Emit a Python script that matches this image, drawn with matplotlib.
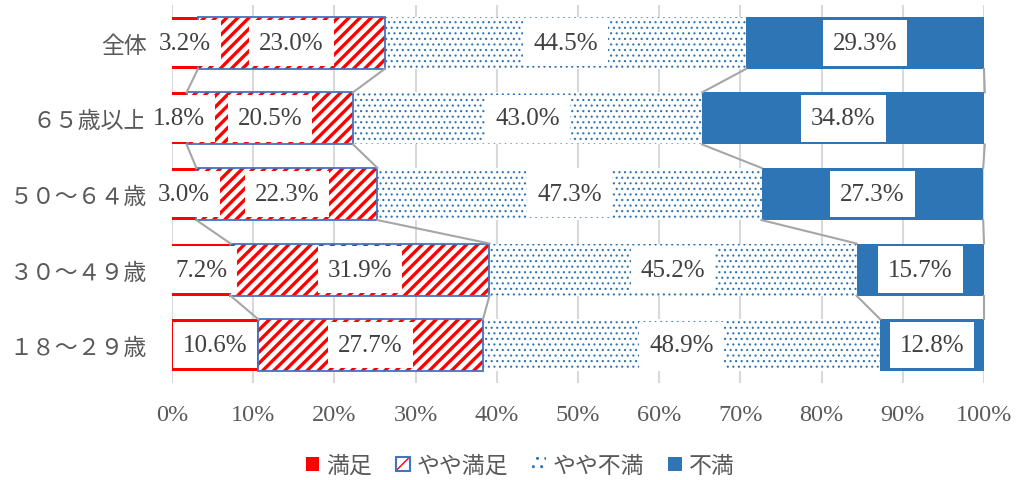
import matplotlib
matplotlib.use("Agg")
import matplotlib.pyplot as plt
from matplotlib.patches import Patch
from matplotlib.legend_handler import HandlerTuple
import numpy as np

# data (percent)
categories = ["全体", "６５歳以上", "５０～６４歳", "３０～４９歳", "１８～２９歳"]
series_names = ["満足", "やや満足", "やや不満", "不満"]
manzoku = [3.2, 1.8, 3.0, 7.2, 10.6]
yaya_manzoku = [23.0, 20.5, 22.3, 31.9, 27.7]
yaya_fuman = [44.5, 43.0, 47.3, 45.2, 48.9]
fuman = [29.3, 34.8, 27.3, 15.7, 12.8]
xticks = [0, 10, 20, 30, 40, 50, 60, 70, 80, 90, 100]

RED = "#FF0000"
BLUE = "#2E75B6"
EDGE_BLUE = "#4472C4"
TXT = "#595959"
num_font = ["Liberation Serif", "Noto Sans CJK JP"]
jp_font = ["Noto Sans CJK JP", "DejaVu Sans"]

fig = plt.figure(figsize=(10.16, 4.81), dpi=100)
ax = fig.add_axes([0.1693, 0.2017, 0.7992, 0.7858])

y = np.arange(len(categories))
h = 0.69
vals = [np.array(manzoku), np.array(yaya_manzoku), np.array(yaya_fuman), np.array(fuman)]
lefts = [np.zeros(len(y))]
for v in vals[:-1]:
    lefts.append(lefts[-1] + v)

# 満足: solid red
ax.barh(y, vals[0], left=lefts[0], height=h, color=RED, edgecolor=RED, linewidth=0, zorder=2)

# やや満足: red stripes + blue outline
with plt.rc_context({"hatch.linewidth": 2.4}):
    bars = ax.barh(y, vals[1], left=lefts[1], height=h, facecolor="white", edgecolor=RED,
                   linewidth=0, hatch="///", zorder=2)
    for b in bars:
        if hasattr(b, "set_hatch_linewidth"):
            b.set_hatch_linewidth(2.4)
ax.barh(y, vals[1], left=lefts[1], height=h, facecolor="none", edgecolor=EDGE_BLUE,
        linewidth=1.3, zorder=2.1)

# やや不満: blue dots
with plt.rc_context({"hatch.linewidth": 0.8}):
    bars = ax.barh(y, vals[2], left=lefts[2], height=h, facecolor="white", edgecolor=BLUE,
                   linewidth=0, hatch="...", zorder=2)
    for b in bars:
        if hasattr(b, "set_hatch_linewidth"):
            b.set_hatch_linewidth(0.8)

# 不満: solid blue
ax.barh(y, vals[3], left=lefts[3], height=h, color=BLUE, linewidth=0, zorder=2)

# series lines between bars
for i in range(4):
    ends = lefts[i] + vals[i]
    for k in range(len(y) - 1):
        ax.plot([ends[k], ends[k + 1]], [y[k] + h / 2, y[k + 1] - h / 2],
                color="#A6A6A6", linewidth=1.5, zorder=3, clip_on=False)

# data labels with white boxes
for i in range(4):
    for k in range(len(y)):
        cx = lefts[i][k] + vals[i][k] / 2
        ax.text(cx, y[k], f"{vals[i][k]:.1f}%", ha="center", va="center",
                fontsize=18, family=num_font, color="#404040", zorder=5,
                bbox=dict(boxstyle="square,pad=0.4", facecolor="white", edgecolor="none",
                          mutation_aspect=1.22))

ax.set_xlim(0, 100)
ax.set_ylim(len(y) - 0.5, -0.5)
ax.set_xticks(xticks)
ax.set_xticklabels([f"{t}%" for t in xticks], family=num_font, fontsize=17.5, color=TXT)
ax.set_yticks(y)
ax.set_yticklabels(categories, family=jp_font, fontsize=16.5, color=TXT)
ax.tick_params(axis="x", length=0, pad=15)
ax.tick_params(axis="y", length=0, pad=18)
for s in ax.spines.values():
    s.set_visible(False)
ax.grid(axis="x", color="#D9D9D9", linewidth=1.5)
ax.set_axisbelow(True)

# legend
h1 = Patch(facecolor=RED, edgecolor=RED, linewidth=0)
with plt.rc_context({"hatch.linewidth": 2.6}):
    h2a = Patch(facecolor="white", edgecolor=RED, linewidth=0, hatch="/")
h2b = Patch(facecolor="none", edgecolor=EDGE_BLUE, linewidth=1.5)
with plt.rc_context({"hatch.linewidth": 0.8}):
    h3 = Patch(facecolor="white", edgecolor=BLUE, linewidth=0, hatch="..")
h4 = Patch(facecolor=BLUE, edgecolor=BLUE, linewidth=0)
leg = fig.legend([h1, (h2a, h2b), h3, h4], series_names, loc="center",
                 bbox_to_anchor=(0.512, 0.03), ncol=4, frameon=False,
                 handlelength=0.6, handleheight=0.6, handletextpad=0.3,
                 columnspacing=1.05, handler_map={tuple: HandlerTuple(ndivide=1)},
                 prop={"family": jp_font, "size": 16.5})
for t in leg.get_texts():
    t.set_color(TXT)

fig.savefig("out.png", dpi=100)
